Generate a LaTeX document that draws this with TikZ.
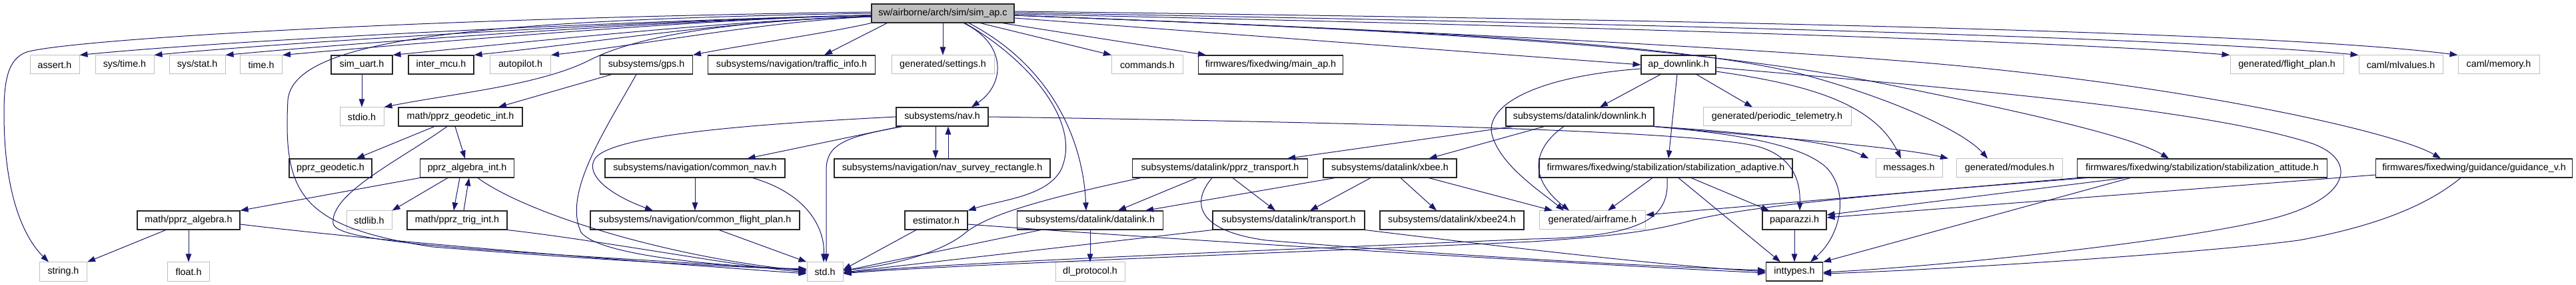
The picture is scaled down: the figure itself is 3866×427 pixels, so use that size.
\documentclass[tikz,border=0pt]{standalone}
\usepackage{fontspec}
\setmainfont{Liberation Sans}
\usetikzlibrary{arrows.meta}
\definecolor{edgecol}{HTML}{191970}
\definecolor{grayb}{HTML}{BFBFBF}
\definecolor{rootf}{HTML}{BFBFBF}
\tikzset{
  fbox/.style={draw=black!85, line width=1.1pt, fill=white, minimum height=28pt, inner sep=0pt, font=\fontsize{14.3}{16}\selectfont, text=black},
  gbox/.style={fbox, draw=grayb, line width=1pt},
  rbox/.style={fbox, fill=rootf},
  dep/.style={draw=edgecol, line width=1pt, -{Triangle[length=12pt,width=8.5pt]}},
}
\begin{document}
\begin{tikzpicture}[x=1pt,y=-1pt]
\fill[white] (0,0) rectangle (3866,427);
\useasboundingbox (0,0) rectangle (3866,427);
% row 1
\node[rbox,minimum width=214pt] (simap) at (1415,20) {sw/airborne/arch/sim/sim\_ap.c};
% row 2
\node[gbox,minimum width=74pt] (assert) at (82,97) {assert.h};
\node[gbox,minimum width=88pt] (systime) at (187,97) {sys/time.h};
\node[gbox,minimum width=84pt] (sysstat) at (296,97) {sys/stat.h};
\node[gbox,minimum width=63pt] (timeh) at (392,97) {time.h};
\node[fbox,minimum width=92pt] (simuart) at (543,97) {sim\_uart.h};
\node[fbox,minimum width=98pt] (intermcu) at (662,97) {inter\_mcu.h};
\node[gbox,minimum width=91pt] (autopilot) at (781,97) {autopilot.h};
\node[fbox,minimum width=139pt] (gps) at (970,97) {subsystems/gps.h};
\node[fbox,minimum width=251pt] (traffic) at (1188,97) {subsystems/navigation/traffic\_info.h};
\node[gbox,minimum width=154pt] (settings) at (1415,97) {generated/settings.h};
\node[gbox,minimum width=107pt] (commands) at (1722,97) {commands.h};
\node[fbox,minimum width=217pt] (mainap) at (1907,97) {firmwares/fixedwing/main\_ap.h};
\node[fbox,minimum width=112pt] (apdown) at (2519,97) {ap\_downlink.h};
\node[gbox,minimum width=170pt] (flightplan) at (3432,97) {generated/flight\_plan.h};
\node[gbox,minimum width=126pt] (mlvalues) at (3603,97) {caml/mlvalues.h};
\node[gbox,minimum width=122pt] (memory) at (3750,97) {caml/memory.h};
% row 3
\node[gbox,minimum width=66pt] (stdio) at (543,175) {stdio.h};
\node[fbox,minimum width=186pt] (geoint) at (691,175) {math/pprz\_geodetic\_int.h};
\node[fbox,minimum width=138pt] (nav) at (1414,175) {subsystems/nav.h};
\node[fbox,minimum width=222pt] (downlink) at (2371,175) {subsystems/datalink/downlink.h};
\node[gbox,minimum width=222pt] (periodic) at (2667,175) {generated/periodic\_telemetry.h};
% row 4
\node[fbox,minimum width=124pt] (geodetic) at (496,252) {pprz\_geodetic.h};
\node[fbox,minimum width=141pt] (algint) at (701,252) {pprz\_algebra\_int.h};
\node[fbox,minimum width=270pt] (commonnav) at (1043,252) {subsystems/navigation/common\_nav.h};
\node[fbox,minimum width=324pt] (survey) at (1414,252) {subsystems/navigation/nav\_survey\_rectangle.h};
\node[fbox,minimum width=263pt] (pprztrans) at (1831,252) {subsystems/datalink/pprz\_transport.h};
\node[fbox,minimum width=200pt] (xbee) at (2086,252) {subsystems/datalink/xbee.h};
\node[fbox,minimum width=380pt] (stabadapt) at (2500,252) {firmwares/fixedwing/stabilization/stabilization\_adaptive.h};
\node[gbox,minimum width=100pt] (messages) at (2865,252) {messages.h};
\node[gbox,minimum width=159pt] (modules) at (3016,252) {generated/modules.h};
\node[fbox,minimum width=375pt] (stabatt) at (3305,252) {firmwares/fixedwing/stabilization/stabilization\_attitude.h};
\node[fbox,minimum width=295pt] (guidance) at (3713,252) {firmwares/fixedwing/guidance/guidance\_v.h};
% row 5
\node[fbox,minimum width=154pt] (algebra) at (283,330) {math/pprz\_algebra.h};
\node[gbox,minimum width=68pt] (stdlib) at (554,330) {stdlib.h};
\node[fbox,minimum width=150pt] (trigint) at (686,330) {math/pprz\_trig\_int.h};
\node[fbox,minimum width=314pt] (commonfp) at (1043,330) {subsystems/navigation/common\_flight\_plan.h};
\node[fbox,minimum width=94pt] (estimator) at (1405,330) {estimator.h};
\node[fbox,minimum width=219pt] (datalink) at (1636,330) {subsystems/datalink/datalink.h};
\node[fbox,minimum width=228pt] (transport) at (1934,330) {subsystems/datalink/transport.h};
\node[fbox,minimum width=216pt] (xbeetf) at (2179,330) {subsystems/datalink/xbee24.h};
\node[gbox,minimum width=159pt] (airframe) at (2390,330) {generated/airframe.h};
\node[fbox,minimum width=96pt] (paparazzi) at (2693,330) {paparazzi.h};
% row 6
\node[gbox,minimum width=71pt] (string) at (95,407) {string.h};
\node[gbox,minimum width=63pt] (float) at (283,407) {float.h};
\node[gbox,minimum width=54pt] (std) at (1238,407) {std.h};
\node[gbox,minimum width=104pt] (dlproto) at (1636,407) {dl\_protocol.h};
\node[fbox,minimum width=85pt] (inttypes) at (2693,407) {inttypes.h};

% ---- edges from sim_ap.c
\draw[dep] ([yshift=-3pt]simap.west) .. controls (1100,26) and (400,55) .. (assert.north east);
\draw[dep] ([yshift=-3pt]simap.west) .. controls (1100,26) and (500,57) .. (systime.north east);
\draw[dep] ([yshift=-3pt]simap.west) .. controls (1100,26) and (600,58) .. (sysstat.north east);
\draw[dep] ([yshift=-3pt]simap.west) .. controls (1100,26) and (680,60) .. (timeh.north east);
\draw[dep] ([yshift=-5pt]simap.west) .. controls (1100,30) and (800,62) .. (simuart.north east);
\draw[dep] ([yshift=-5pt]simap.west) .. controls (1100,30) and (900,63) .. (intermcu.north east);
\draw[dep] ([yshift=-5pt]simap.west) .. controls (1150,32) and (980,65) .. (autopilot.north east);
\draw[dep] ([yshift=2pt]simap.west) .. controls (600,28) and (100,60) .. (40,78) .. controls (12,88) and (6,120) .. (6,170) .. controls (6,300) and (40,360) .. ([xshift=-22pt]string.north);
\draw[dep] (simap.west) .. controls (700,30) and (440,60) .. (432,150) .. controls (425,290) and (450,340) .. (650,370) .. controls (900,390) and (1100,400) .. ([yshift=3pt]std.west);
\draw[dep] ([yshift=-4pt]simap.west) .. controls (1100,32) and (960,52) .. (885,90) .. controls (810,128) and (680,140) .. (stdio.north east);
\draw[dep] (simap.south west) .. controls (1240,50) and (1100,70) .. (gps.north east);
\draw[dep] ([xshift=24pt]simap.south west) -- ([xshift=-77pt]traffic.north east);
\draw[dep] (simap.south) -- (settings.north);
\draw[dep] ([xshift=31pt]simap.south) .. controls (1510,65) and (1510,125) .. ([xshift=44pt]nav.north);
\draw[dep] ([xshift=33pt]simap.south) .. controls (1545,90) and (1625,185) .. (1592,255) .. controls (1570,295) and (1500,300) .. (estimator.north east);
\draw[dep] ([xshift=39pt]simap.south) .. controls (1570,95) and (1625,200) .. ([xshift=-6pt]datalink.north);
\draw[dep] ([xshift=56pt]simap.south) -- (commands.north west);
\draw[dep] ([xshift=89pt]simap.south) -- ([xshift=12pt]mainap.north west);
\draw[dep] ([yshift=-7pt]simap.east) -- (apdown.west);
\draw[dep] ([yshift=-1pt]simap.east) .. controls (2400,40) and (3100,62) .. (flightplan.north west);
\draw[dep] ([yshift=1pt]simap.east) .. controls (2400,34) and (3250,55) .. (mlvalues.north west);
\draw[dep] ([yshift=3pt]simap.east) .. controls (2400,28) and (3400,45) .. (memory.north west);
\draw[dep] ([yshift=-3pt]simap.east) .. controls (2100,45) and (2500,62) .. (2700,110) .. controls (2850,150) and (2950,200) .. ([xshift=-33pt]modules.north);
\draw[dep] ([yshift=-3pt]simap.east) .. controls (2100,45) and (2500,65) .. (2800,120) .. controls (3050,170) and (3200,205) .. ([xshift=-50pt]stabatt.north);
\draw[dep] ([yshift=-3pt]simap.east) .. controls (2100,45) and (2600,70) .. (2900,95) .. controls (3300,130) and (3600,200) .. ([xshift=-50pt]guidance.north);

% ---- ap_downlink.h
\draw[dep] ([xshift=-27pt]apdown.south) -- ([xshift=30pt]downlink.north);
\draw[dep] ([xshift=27pt]apdown.south) -- ([xshift=-37pt]periodic.north);
\draw[dep] ([xshift=-2pt]apdown.south) -- ([xshift=4pt]stabadapt.north);
\draw[dep] ([yshift=-10pt]apdown.east) .. controls (2700,125) and (2810,150) .. ([xshift=-12pt]messages.north);
\draw[dep] ([yshift=-6pt]apdown.west) .. controls (2300,115) and (2225,160) .. (2240,205) .. controls (2255,250) and (2310,285) .. ([xshift=-43pt]airframe.north);
\draw[dep] ([yshift=-4pt]apdown.east) .. controls (2900,130) and (3300,160) .. (3470,215) .. controls (3540,240) and (3530,300) .. (3400,330) .. controls (3250,365) and (2900,400) .. ([yshift=-1pt]inttypes.east);

% ---- downlink.h
\draw[dep] ([xshift=12pt]downlink.south west) -- ([xshift=-31pt]pprztrans.north east);
\draw[dep] ([xshift=58pt]downlink.south west) -- ([xshift=-42pt]xbee.north east);
\draw[dep] ([xshift=-24pt]downlink.south) .. controls (2310,215) and (2285,260) .. ([xshift=-35pt]airframe.north);
\draw[dep] (downlink.south east) .. controls (2650,200) and (2760,215) .. ([xshift=-10pt]messages.north west);
\draw[dep] (downlink.south east) .. controls (2650,205) and (2850,220) .. ([xshift=-12pt]modules.north west);
\draw[dep] (downlink.south east) .. controls (2600,200) and (2700,215) .. (2740,250) .. controls (2775,285) and (2765,350) .. ([xshift=24pt]inttypes.north);

% ---- nav.h
\draw[dep] ([xshift=7pt]nav.south west) -- ([xshift=-57pt]commonnav.north east);
\draw[dep] (nav.west) .. controls (1150,185) and (930,200) .. (895,235) .. controls (875,258) and (910,290) .. ([xshift=-63pt]commonfp.north);
\draw[dep] ([xshift=10pt]nav.south west) .. controls (1270,205) and (1240,215) .. (1240,255) -- ([xshift=2pt]std.north);
\draw[dep] ([xshift=-10pt]nav.south) -- ([xshift=-10pt]survey.north);
\draw[dep] ([xshift=9pt]survey.north) -- ([xshift=9pt]nav.south);
\draw[dep] (nav.east) .. controls (2000,183) and (2550,195) .. (2640,220) .. controls (2690,235) and (2702,270) .. ([xshift=8pt]paparazzi.north);

% ---- left part
\draw[dep] (simuart.south) -- (stdio.north);
\draw[dep] ([xshift=-52pt]gps.south) -- ([xshift=57pt]geoint.north);
\draw[dep] ([xshift=-15pt]gps.south) .. controls (905,200) and (845,290) .. (872,348) .. controls (900,385) and (1100,400) .. ([yshift=4pt]std.west);
\draw[dep] ([xshift=-39pt]geoint.south) -- ([xshift=39pt]geodetic.north);
\draw[dep] ([xshift=-8pt]geoint.south) -- ([xshift=-3pt]algint.north);
\draw[dep] ([xshift=-20pt]geoint.south) .. controls (600,240) and (495,290) .. (500,335) .. controls (505,368) and (800,378) .. ([yshift=2pt]std.west);
\draw[dep] (algint.south west) -- (algebra.north east);
\draw[dep] ([xshift=42pt]algint.south west) -- (stdlib.north east);
\draw[dep] ([xshift=-11pt]algint.south) .. controls (686,285) .. ([xshift=-5pt]trigint.north);
\draw[dep] ([xshift=10pt]trigint.north) .. controls (700,290) .. ([xshift=3pt]algint.south);
\draw[dep] ([xshift=16pt]algint.south) .. controls (790,320) and (1000,385) .. ([yshift=1pt]std.west);
\draw[dep] (trigint.south east) .. controls (900,360) and (1100,398) .. ([yshift=-1pt]std.west);
\draw[dep] ([xshift=-34pt]algebra.south) -- (string.north east);
\draw[dep] (algebra.south) -- (float.north);
\draw[dep] ([yshift=-6pt]algebra.east) .. controls (600,365) and (1000,395) .. ([yshift=-3pt]std.west);
\draw[dep] (commonnav.south) -- (commonfp.north);
\draw[dep] ([xshift=-49pt]commonnav.south east) .. controls (1210,290) and (1238,340) .. ([xshift=-2pt]std.north);
\draw[dep] ([xshift=36pt]commonfp.south) -- (std.north west);

% ---- middle
\draw[dep] ([xshift=-30pt]estimator.south) -- ([yshift=3pt]std.east);
\draw[dep] ([yshift=-6pt]estimator.east) .. controls (1700,355) and (2300,392) .. ([yshift=-2pt]inttypes.west);
\draw[dep] (datalink.south) -- (dlproto.north);
\draw[dep] ([xshift=-74pt]datalink.south) -- ([yshift=1pt]std.east);
\draw[dep] ([xshift=-35pt]pprztrans.south) -- ([xshift=42pt]datalink.north);
\draw[dep] ([xshift=19pt]pprztrans.south) -- ([xshift=-20pt]transport.north);
\draw[dep] ([xshift=13pt]pprztrans.south west) .. controls (1580,295) and (1480,320) .. (1445,352) .. controls (1400,385) and (1320,400) .. ([yshift=2pt]std.east);
\draw[dep] ([xshift=-12pt]pprztrans.south) .. controls (1790,300) and (1790,345) .. (1900,360) .. controls (2200,385) and (2500,400) .. ([yshift=2pt]inttypes.west);
\draw[dep] ([xshift=18pt]xbee.south west) -- ([xshift=-27pt]datalink.north east);
\draw[dep] ([xshift=-29pt]xbee.south) -- ([xshift=32pt]transport.north);
\draw[dep] ([xshift=16pt]xbee.south) -- ([xshift=-23pt]xbeetf.north);
\draw[dep] ([xshift=58pt]xbee.south) -- ([xshift=-60pt]airframe.north);
\draw[dep] (transport.south west) -- ([yshift=-1pt]std.east);
\draw[dep] (transport.south east) .. controls (2300,375) and (2500,398) .. (inttypes.west);

% ---- right part
\draw[dep] ([xshift=-20pt]stabadapt.south) -- ([xshift=23pt]airframe.north);
\draw[dep] ([xshift=2pt]stabadapt.south) .. controls (2505,320) and (2480,355) .. (2300,358) .. controls (1900,375) and (1400,395) .. ([yshift=-2pt]std.east);
\draw[dep] ([xshift=19pt]stabadapt.south) -- ([xshift=-21pt]inttypes.north);
\draw[dep] ([xshift=38pt]stabadapt.south) -- ([xshift=-38pt]paparazzi.north);
\draw[dep] (stabatt.south west) -- ([yshift=8pt]airframe.east);
\draw[dep] ([xshift=15pt]stabatt.south west) .. controls (2900,285) and (2640,305) .. (2540,330) .. controls (2490,343) and (2450,352) .. (2300,362) .. controls (1900,380) and (1400,398) .. ([yshift=-3pt]std.east);
\draw[dep] ([xshift=72pt]stabatt.south west) -- ([yshift=8pt]paparazzi.east);
\draw[dep] ([xshift=80pt]stabatt.south west) -- (inttypes.north east);
\draw[dep] ([yshift=-10pt]guidance.west) -- ([yshift=4pt]paparazzi.east);
\draw[dep] ([xshift=-20pt]guidance.south) .. controls (3640,310) and (3560,340) .. (3450,360) .. controls (3300,380) and (2900,405) .. ([yshift=-3pt]inttypes.east);
\draw[dep] (paparazzi.south) -- (inttypes.north);
\end{tikzpicture}
\end{document}
